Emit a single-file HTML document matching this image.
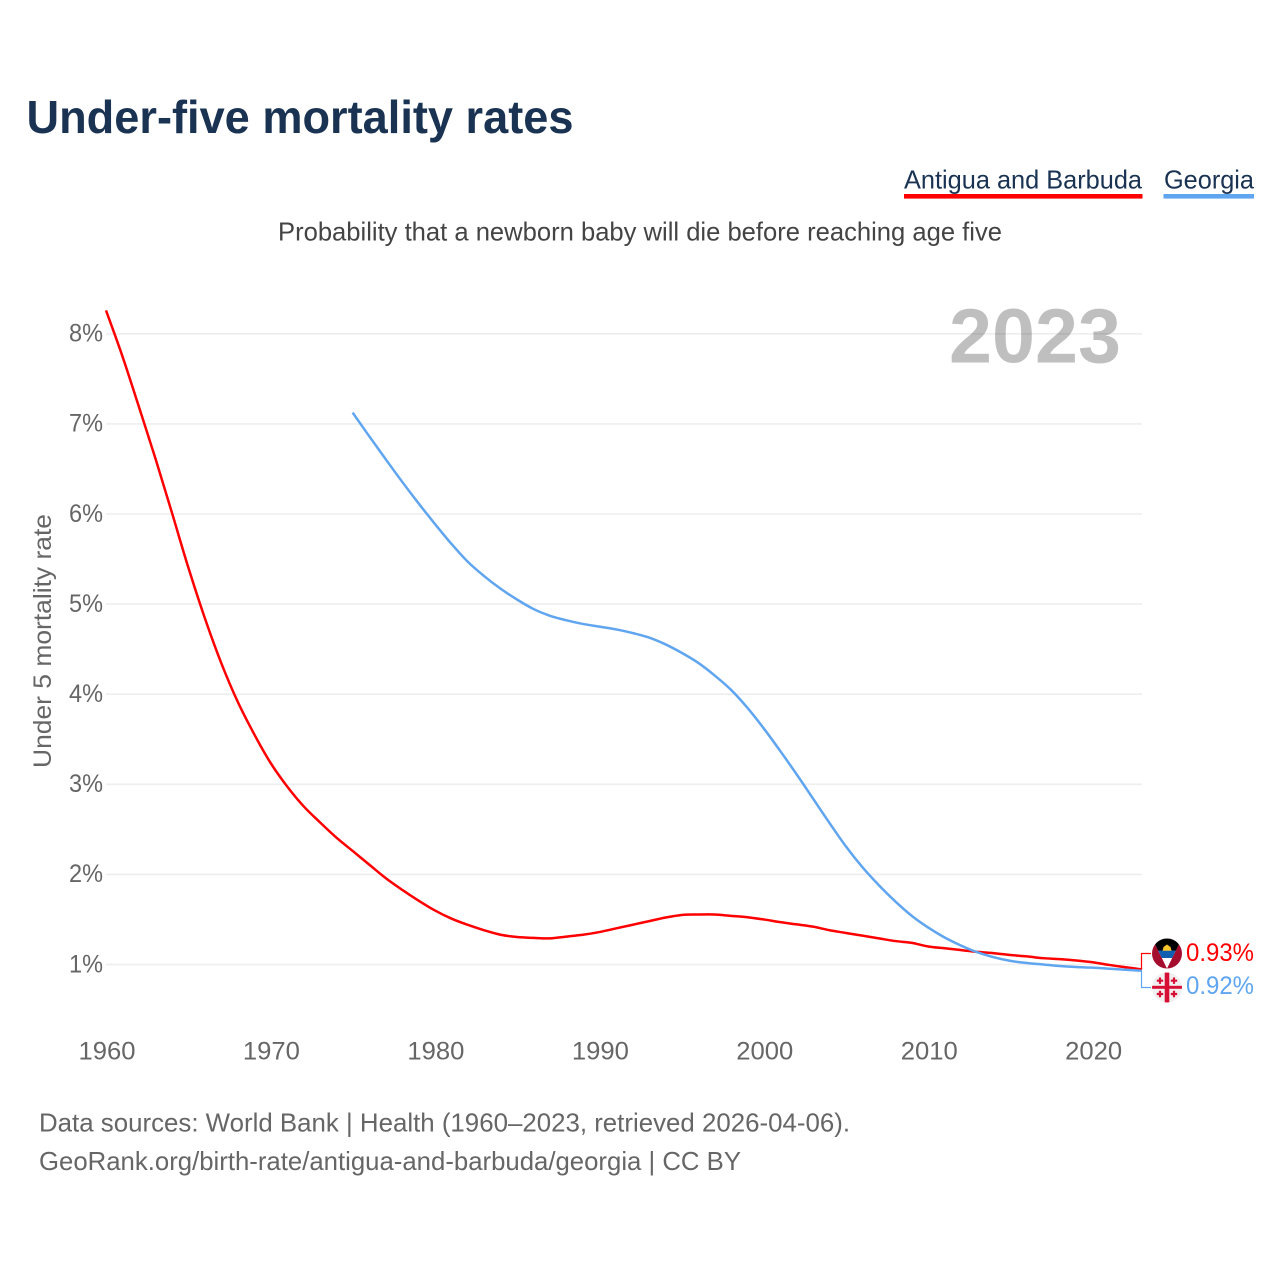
<!DOCTYPE html>
<html lang="en">
<head>
<meta charset="utf-8">
<title>Under-five mortality rates</title>
<style>
html,body{margin:0;padding:0;background:#fff;width:1280px;height:1280px;overflow:hidden}
svg{display:block}
text{font-family:"Liberation Sans",sans-serif}
</style>
</head>
<body>
<svg id="chart" xmlns="http://www.w3.org/2000/svg" width="1280" height="1280" viewBox="0 0 1280 1280">
  <rect width="1280" height="1280" fill="#fff"/>
  <text x="26.5" y="133" font-size="46" font-weight="700" fill="#1a3353" textLength="547" lengthAdjust="spacingAndGlyphs">Under-five mortality rates</text>

  <g>
    <g>
      <text x="904" y="188.4" font-size="26" fill="#1a3353" textLength="238" lengthAdjust="spacingAndGlyphs">Antigua and Barbuda</text>
      <rect x="904" y="194" width="238.5" height="4.6" fill="#ff0000"/>
    </g>
    <g>
      <text x="1164" y="188.4" font-size="26" fill="#1a3353" textLength="90" lengthAdjust="spacingAndGlyphs">Georgia</text>
      <rect x="1163.5" y="194" width="90.5" height="4.6" fill="#60a5ef"/>
    </g>
  </g>

  <text x="278" y="240.5" font-size="26" fill="#444" textLength="724" lengthAdjust="spacingAndGlyphs">Probability that a newborn baby will die before reaching age five</text>

  <g id="grid"></g>
  <g id="yticks"></g>
  <g id="xticks"></g>

  <text transform="translate(51,768) rotate(-90)" font-size="25" fill="#666" textLength="254" lengthAdjust="spacingAndGlyphs">Under 5 mortality rate</text>

  <text x="949" y="362.5" font-size="77" font-weight="700" fill="#000" fill-opacity="0.25" textLength="172" lengthAdjust="spacingAndGlyphs">2023</text>

  <g id="series"></g>

  <g>
    <path d="M1141.5 969.5V953.5H1151" fill="none" stroke="#ff0000" stroke-width="1.2"/>
    <path d="M1141.5 971V987.5H1151" fill="none" stroke="#60a5ef" stroke-width="1.2"/>
  </g>

  <defs>
    <clipPath id="clipA"><circle cx="1167" cy="953.5" r="15"/></clipPath>
    <clipPath id="clipG"><circle cx="1167" cy="987.5" r="15"/></clipPath>
  </defs>

  <g clip-path="url(#clipA)">
    <rect x="1151" y="938" width="32" height="32" fill="#a50d2e"/>
    <polygon points="1152,938 1182,938 1167,968.5" fill="#ffffff"/>
    <polygon points="1152,938 1182,938 1175.8,950.7 1158.2,950.7" fill="#000000"/>
    <polygon points="1158.2,950.5 1175.8,950.5 1172.2,958 1161.8,958" fill="#0f5fb0"/>
    <polygon points="1162.5,950.7 1171.5,950.7 1170.5,947 1167,944.5 1163.5,947" fill="#f8c52a"/>
  </g>
  <g clip-path="url(#clipG)">
    <rect x="1151" y="972" width="32" height="32" fill="#f0f0f0"/>
    <rect x="1164.7" y="972" width="4.6" height="32" fill="#d80f35"/>
    <rect x="1151" y="985.8" width="32" height="3" fill="#d80f35"/>
    <path d="M1160 977.5v6.4M1156.8 980.7h6.4M1174 977.5v6.4M1170.8 980.7h6.4M1160 990.8v6.4M1156.8 994h6.4M1174 990.8v6.4M1170.8 994h6.4" stroke="#d80f35" stroke-width="2.2" fill="none"/>
  </g>

  <text x="1186" y="960.8" font-size="25" fill="#ff0000" textLength="68" lengthAdjust="spacingAndGlyphs">0.93%</text>
  <text x="1186" y="993.8" font-size="25" fill="#60a5ef" textLength="68" lengthAdjust="spacingAndGlyphs">0.92%</text>

  <text x="39" y="1131.5" font-size="26" fill="#666" textLength="811" lengthAdjust="spacingAndGlyphs">Data sources: World Bank | Health (1960–2023, retrieved 2026-04-06).</text>
  <text x="39" y="1170.2" font-size="26" fill="#666" textLength="702" lengthAdjust="spacingAndGlyphs">GeoRank.org/birth-rate/antigua-and-barbuda/georgia | CC BY</text>
</svg>

<script>
var yTickValues = [1, 2, 3, 4, 5, 6, 7, 8];
var xTickValues = [1960, 1970, 1980, 1990, 2000, 2010, 2020];
var antiguaStartYear = 1960;
var georgiaStartYear = 1975;
var antiguaValues = [
  8.26, 7.75, 7.19, 6.62, 6.02, 5.41, 4.85, 4.35, 3.92, 3.56,
  3.24, 2.98, 2.76, 2.58, 2.41, 2.26, 2.11, 1.96, 1.83, 1.71,
  1.60, 1.51, 1.44, 1.38, 1.33, 1.305, 1.295, 1.29, 1.31, 1.33,
  1.36, 1.40, 1.44, 1.48, 1.52, 1.55, 1.555, 1.555, 1.54, 1.525,
  1.50, 1.47, 1.445, 1.42, 1.38, 1.35, 1.32, 1.29, 1.26, 1.24,
  1.20, 1.18, 1.16, 1.14, 1.125, 1.105, 1.09, 1.07, 1.06, 1.045,
  1.025, 0.995, 0.97, 0.945
];
var georgiaValues = [
  7.125, 6.865, 6.61, 6.36, 6.12, 5.89, 5.67, 5.47, 5.31, 5.17,
  5.05, 4.945, 4.87, 4.82, 4.78, 4.75, 4.72, 4.68, 4.63, 4.555,
  4.46, 4.35, 4.21, 4.05, 3.85, 3.62, 3.37, 3.11, 2.84, 2.57,
  2.31, 2.08, 1.88, 1.70, 1.54, 1.41, 1.30, 1.21, 1.135, 1.08,
  1.04, 1.017, 1.00, 0.983, 0.972, 0.965, 0.953, 0.942, 0.93
];

var NS = 'http://www.w3.org/2000/svg';
function xScale(year) { return 106 + (year - 1960) * (1142 - 106) / 63; }
function yScale(v) { return 964.5 - (v - 1) * 90.1; }

function makeSmoothPath(startYear, values) {
  var pts = values.map(function (v, i) {
    return [xScale(startYear + i), yScale(v)];
  });
  var d = 'M' + pts[0][0].toFixed(2) + ' ' + pts[0][1].toFixed(2);
  for (var i = 0; i < pts.length - 1; i++) {
    var p0 = pts[Math.max(i - 1, 0)];
    var p1 = pts[i];
    var p2 = pts[i + 1];
    var p3 = pts[Math.min(i + 2, pts.length - 1)];
    var c1x = p1[0] + (p2[0] - p0[0]) / 6;
    var c1y = p1[1] + (p2[1] - p0[1]) / 6;
    var c2x = p2[0] - (p3[0] - p1[0]) / 6;
    var c2y = p2[1] - (p3[1] - p1[1]) / 6;
    d += 'C' + c1x.toFixed(2) + ' ' + c1y.toFixed(2) + ' ' + c2x.toFixed(2) + ' ' + c2y.toFixed(2) + ' ' + p2[0].toFixed(2) + ' ' + p2[1].toFixed(2);
  }
  return d;
}

var gridGroup = document.getElementById('grid');
var yGroup = document.getElementById('yticks');
var xGroup = document.getElementById('xticks');
var seriesGroup = document.getElementById('series');

yTickValues.forEach(function (v) {
  var line = document.createElementNS(NS, 'line');
  
  
  line.setAttribute('x1', 106);
  line.setAttribute('x2', 1142);
  line.setAttribute('y1', yScale(v));
  line.setAttribute('y2', yScale(v));
  line.setAttribute('stroke', '#eeeeee');
  line.setAttribute('stroke-width', '1.6');
  gridGroup.appendChild(line);

  var label = document.createElementNS(NS, 'text');
  
  
  label.setAttribute('x', 69);
  label.setAttribute('y', yScale(v) + 7.8);
  label.setAttribute('font-size', '25');
  label.setAttribute('fill', '#666');
  label.setAttribute('textLength', '34');
  label.setAttribute('lengthAdjust', 'spacingAndGlyphs');
  label.textContent = v + '%';
  yGroup.appendChild(label);
});

xTickValues.forEach(function (year) {
  var label = document.createElementNS(NS, 'text');
  
  
  label.setAttribute('x', xScale(year) - 27.5);
  label.setAttribute('y', 1059.5);
  label.setAttribute('font-size', '25');
  label.setAttribute('fill', '#666');
  label.setAttribute('textLength', '57');
  label.setAttribute('lengthAdjust', 'spacingAndGlyphs');
  label.textContent = year;
  xGroup.appendChild(label);
});

var antiguaLine = document.createElementNS(NS, 'path');


antiguaLine.setAttribute('d', makeSmoothPath(antiguaStartYear, antiguaValues));
antiguaLine.setAttribute('fill', 'none');
antiguaLine.setAttribute('stroke', '#ff0000');
antiguaLine.setAttribute('stroke-width', '2.5');
antiguaLine.setAttribute('stroke-linejoin', 'round');
seriesGroup.appendChild(antiguaLine);

var georgiaLine = document.createElementNS(NS, 'path');


georgiaLine.setAttribute('d', makeSmoothPath(georgiaStartYear, georgiaValues));
georgiaLine.setAttribute('fill', 'none');
georgiaLine.setAttribute('stroke', '#60a5ef');
georgiaLine.setAttribute('stroke-width', '2.5');
georgiaLine.setAttribute('stroke-linejoin', 'round');
seriesGroup.appendChild(georgiaLine);
</script>
</body>
</html>
